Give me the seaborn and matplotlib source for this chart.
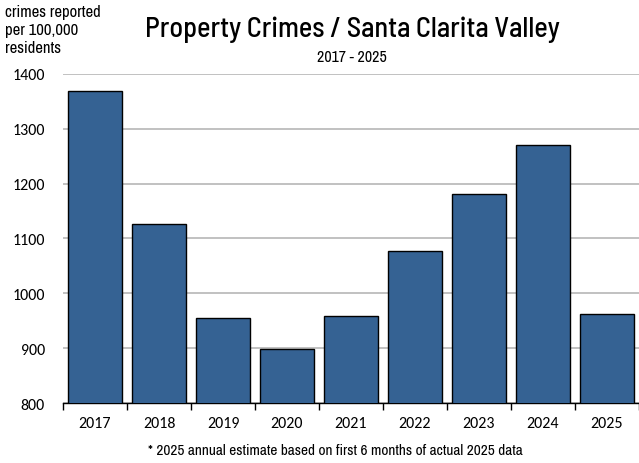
import matplotlib
matplotlib.use("Agg")
import matplotlib.pyplot as plt
import seaborn as sns
import pandas as pd

# Data
years = ["2017", "2018", "2019", "2020", "2021", "2022", "2023", "2024", "2025"]
crimes = [1369, 1127, 955, 899, 959, 1077, 1181, 1271, 962]

data = pd.DataFrame({"year": years, "crimes": crimes})

sns.set_style("white")
narrow = ["Archivo Narrow", "DejaVu Sans"]
plt.rcParams["font.family"] = ["Carlito", "Open Sans", "DejaVu Sans"]
plt.rcParams["text.color"] = "black"
plt.rcParams["xtick.color"] = "black"
plt.rcParams["ytick.color"] = "black"

fig = plt.figure(figsize=(6.39, 4.64), dpi=100)
ax = fig.add_axes([0.0986, 0.1293, 0.9014, 0.7091])

sns.barplot(x="year", y="crimes", data=data, color="#356293", saturation=1,
            width=0.85, edgecolor="black", linewidth=1, ax=ax, zorder=3)

ax.set_ylim(800, 1400)
ax.set_xlim(-0.5, len(years) - 0.5)
ax.set_yticks(range(800, 1401, 100))
ax.yaxis.grid(True, color="#b0b0b0", linewidth=1.1, zorder=0)
ax.set_axisbelow(True)
for s in ["left", "right", "top"]:
    ax.spines[s].set_visible(False)
ax.spines["bottom"].set_color("black")
ax.spines["bottom"].set_linewidth(1)

# tick marks on the category boundaries
ax.set_xticks([i - 0.5 for i in range(len(years) + 1)], minor=True)
ax.tick_params(axis="x", which="minor", direction="out", length=5, width=1,
               color="black", bottom=True)
ax.tick_params(axis="x", which="major", length=0, labelsize=11.5, pad=9)
ax.tick_params(axis="y", length=0, labelsize=11.5, pad=13)
ax.set_xlabel("")
ax.set_ylabel("")

fig.text(0.551, 0.935, "Property Crimes / Santa Clarita Valley", ha="center",
         va="center", fontsize=20.3, family=["Barlow Semi Condensed", "DejaVu Sans"],
         weight=500)
fig.text(0.551, 0.877, "2017 - 2025", ha="center", va="center",
         fontsize=11.5, family=narrow)
fig.text(0.008, 0.99, "crimes reported\nper 100,000\nresidents", ha="left",
         va="top", fontsize=12, family=narrow, linespacing=1.25)
fig.text(0.525, 0.027, "* 2025 annual estimate based on first 6 months of actual 2025 data",
         ha="center", va="center", fontsize=11, family=narrow)

fig.savefig("out.png", dpi=100)
